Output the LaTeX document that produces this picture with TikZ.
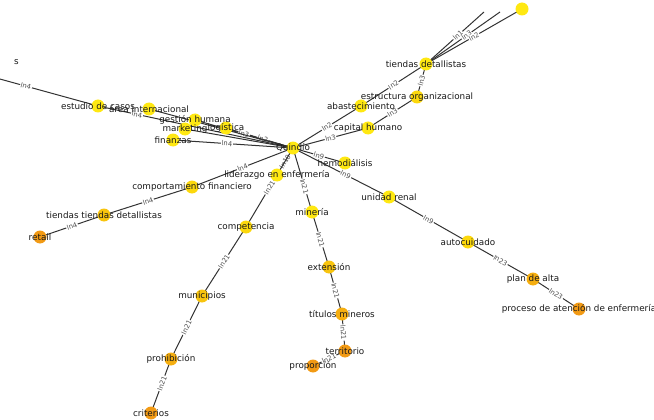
\documentclass[tikz,border=0pt]{standalone}
\usepackage{fontspec}
\setmainfont{DejaVu Sans}
\definecolor{yA}{HTML}{FFE812}
\definecolor{yB}{HTML}{FCD80C}
\definecolor{yC}{HTML}{F8C40E}
\definecolor{yD}{HTML}{F5AE10}
\definecolor{yE}{HTML}{F29A14}
\begin{document}
\begin{tikzpicture}[x=1pt,y=-1pt,
  dot/.style={circle, inner sep=0pt, minimum size=13pt, fill=#1, draw=none},
  txt/.style={font=\fontsize{8.8}{9}\selectfont, text=black!90, inner sep=0pt},
  ed/.style={draw=black!80, line width=1pt},
  el/.style={sloped, font=\fontsize{6.8}{7}\selectfont, fill=white, inner sep=0.7pt, text=black!70}]
\useasboundingbox (0,0) rectangle (654,420);
\clip (0,0) rectangle (654,420);
% positions
\coordinate (q) at (293,148);
\coordinate (lid) at (277,175);
\coordinate (hem) at (345,163);
\coordinate (uni) at (389,197);
\coordinate (auto) at (468,242);
\coordinate (plan) at (533,279);
\coordinate (proc) at (579,309);
\coordinate (min) at (312,212);
\coordinate (ext) at (329,267);
\coordinate (tit) at (342,314);
\coordinate (ter) at (345,351);
\coordinate (prop) at (313,366);
\coordinate (comp) at (246,227);
\coordinate (mun) at (202,296);
\coordinate (pro) at (171,359);
\coordinate (crit) at (151,413);
\coordinate (cf) at (192,187);
\coordinate (ttd) at (104,215);
\coordinate (ret) at (40,237);
\coordinate (est) at (98,106);
\coordinate (ai) at (149,109);
\coordinate (gh) at (195,120);
\coordinate (mk) at (185,129);
\coordinate (log) at (226,128);
\coordinate (fin) at (173,140);
\coordinate (tl) at (-62,62);
\coordinate (td) at (426,64);
\coordinate (eo) at (417,97);
\coordinate (aba) at (361,106);
\coordinate (cap) at (368,128);
\coordinate (t1) at (484,12);
\coordinate (t3) at (500,12);
\coordinate (t2) at (522,9);
% edges
\draw[ed] (q) -- node[el]{ln10} (lid);
\draw[ed] (q) -- node[el]{ln9} (hem);
\draw[ed] (q) -- node[el,pos=0.55]{ln9} (uni);
\draw[ed] (uni) -- node[el]{ln9} (auto);
\draw[ed] (auto) -- node[el]{ln23} (plan);
\draw[ed] (plan) -- node[el]{ln23} (proc);
\draw[ed] (q) -- node[el,pos=0.6]{ln21} (min);
\draw[ed] (min) -- node[el]{ln21} (ext);
\draw[ed] (ext) -- node[el]{ln21} (tit);
\draw[ed] (tit) -- node[el]{ln21} (ter);
\draw[ed] (ter) -- node[el]{ln21} (prop);
\draw[ed] (q) -- node[el]{ln21} (comp);
\draw[ed] (comp) -- node[el]{ln21} (mun);
\draw[ed] (mun) -- node[el]{ln21} (pro);
\draw[ed] (pro) -- node[el,pos=0.45]{ln21} (crit);
\draw[ed] (q) -- node[el]{ln4} (cf);
\draw[ed] (cf) -- node[el]{ln4} (ttd);
\draw[ed] (ttd) -- node[el]{ln4} (ret);
\draw[ed] (q) -- node[el,pos=0.55]{ln4} (fin);
\draw[ed] (q) -- node[el,pos=0.45]{ln2} (log);
\draw[ed] (q) -- node[el,pos=0.5]{ln3} (gh);
\draw[ed] (q) -- (mk);
\draw[ed] (q) -- (ai);
\draw[ed] (q) -- node[el,pos=0.8]{ln4} (est);
\draw[ed] (tl) -- node[el,pos=0.55]{ln4} (est);
\draw[ed] (q) -- node[el]{ln2} (aba);
\draw[ed] (aba) -- node[el]{ln2} (td);
\draw[ed] (q) -- node[el]{ln3} (cap);
\draw[ed] (cap) -- node[el]{ln3} (eo);
\draw[ed] (eo) -- node[el]{ln3} (td);
\draw[ed] (td) -- node[el,pos=0.55]{ln1} (t1);
\draw[ed] (td) -- node[el,pos=0.55]{ln3} (t3);
\draw[ed] (td) -- node[el,pos=0.5]{ln2} (t2);
% dots
\node[dot=yA] (q-c) at (q) {};
\node[dot=yA] (lid-c) at (lid) {};
\node[dot=yA] (hem-c) at (hem) {};
\node[dot=yA] (uni-c) at (uni) {};
\node[dot=yB] (auto-c) at (auto) {};
\node[dot=yD] (plan-c) at (plan) {};
\node[dot=yE] (proc-c) at (proc) {};
\node[dot=yA] (min-c) at (min) {};
\node[dot=yC] (ext-c) at (ext) {};
\node[dot=yD] (tit-c) at (tit) {};
\node[dot=yE] (ter-c) at (ter) {};
\node[dot=yE] (prop-c) at (prop) {};
\node[dot=yB] (comp-c) at (comp) {};
\node[dot=yC] (mun-c) at (mun) {};
\node[dot=yD] (pro-c) at (pro) {};
\node[dot=yE] (crit-c) at (crit) {};
\node[dot=yB] (cf-c) at (cf) {};
\node[dot=yC] (ttd-c) at (ttd) {};
\node[dot=yE] (ret-c) at (ret) {};
\node[dot=yA] (est-c) at (est) {};
\node[dot=yA] (ai-c) at (ai) {};
\node[dot=yA] (gh-c) at (gh) {};
\node[dot=yA] (mk-c) at (mk) {};
\node[dot=yA] (log-c) at (log) {};
\node[dot=yA] (fin-c) at (fin) {};
\node[dot=yA] (td-c) at (td) {};
\node[dot=yB] (eo-c) at (eo) {};
\node[dot=yA] (aba-c) at (aba) {};
\node[dot=yA] (cap-c) at (cap) {};
\node[dot=yA] (t2-c) at (t2) {};
% texts
\node[txt] (q-t) at (q) {Quindío};
\node[txt] (lid-t) at (lid) {liderazgo en enfermería};
\node[txt] (hem-t) at (hem) {hemodiálisis};
\node[txt] (uni-t) at (uni) {unidad renal};
\node[txt] (auto-t) at (auto) {autocuidado};
\node[txt] (plan-t) at (plan) {plan de alta};
\node[txt] (proc-t) at (proc) {proceso de atención de enfermería};
\node[txt] (min-t) at (min) {minería};
\node[txt] (ext-t) at (ext) {extensión};
\node[txt] (tit-t) at (tit) {títulos mineros};
\node[txt] (ter-t) at (ter) {territorio};
\node[txt] (prop-t) at (prop) {proporción};
\node[txt] (comp-t) at (comp) {competencia};
\node[txt] (mun-t) at (mun) {municipios};
\node[txt] (pro-t) at (pro) {prohibición};
\node[txt] (crit-t) at (crit) {criterios};
\node[txt] (cf-t) at (cf) {comportamiento financiero};
\node[txt] (ttd-t) at (ttd) {tiendas tiendas detallistas};
\node[txt] (ret-t) at (ret) {retail};
\node[txt] (est-t) at (est) {estudio de casos};
\node[txt] (ai-t) at (ai) {área internacional};
\node[txt] (gh-t) at (gh) {gestión humana};
\node[txt] (mk-t) at (mk) {marketing};
\node[txt] (log-t) at (log) {logística};
\node[txt] (fin-t) at (fin) {finanzas};
\node[txt] (td-t) at (td) {tiendas detallistas};
\node[txt] (eo-t) at (eo) {estructura organizacional};
\node[txt] (aba-t) at (aba) {abastecimiento};
\node[txt] (cap-t) at (cap) {capital humano};
\node[txt, anchor=east] (tl-t) at (19,62) {s};
\end{tikzpicture}
\end{document}
